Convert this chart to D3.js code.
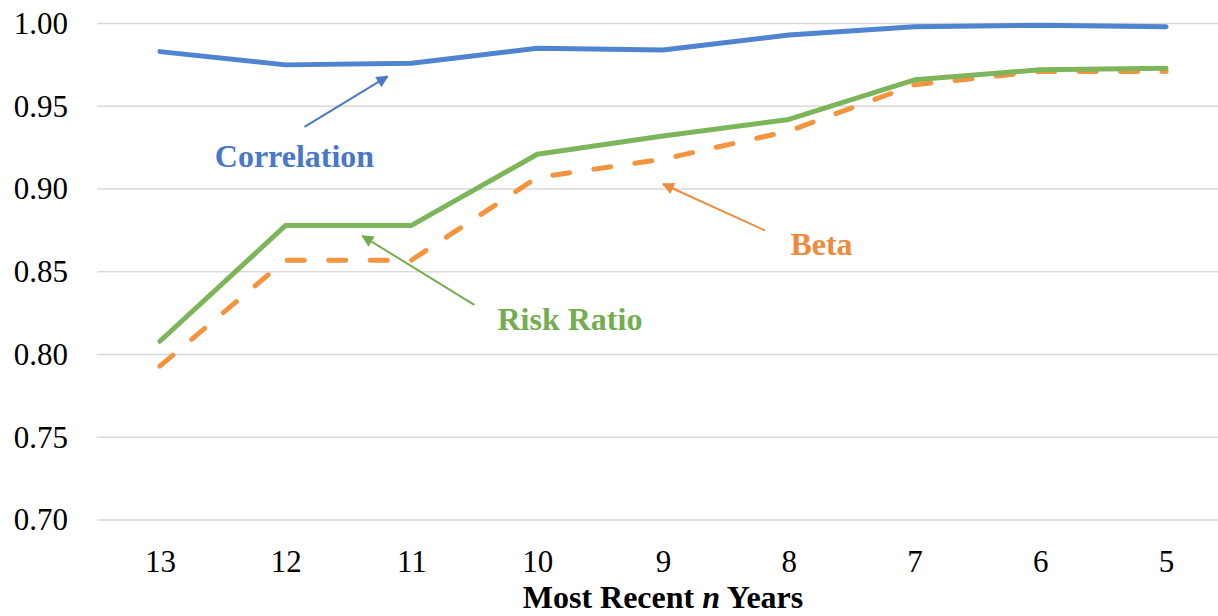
<!DOCTYPE html>
<html>
<head>
<meta charset="utf-8">
<script src="https://cdn.jsdelivr.net/npm/d3@7"></script>
<style>
  html, body { margin: 0; padding: 0; background: #fff; }
  svg { display: block; }
</style>
</head>
<body>
<svg id="chart" width="1218" height="616"></svg>
<script>
// Categories: most recent n years
const years = ["13", "12", "11", "10", "9", "8", "7", "6", "5"];

// Series values
const correlation = [0.983, 0.975, 0.976, 0.985, 0.984, 0.993, 0.998, 0.999, 0.998];
const riskRatio   = [0.808, 0.878, 0.878, 0.921, 0.932, 0.942, 0.966, 0.972, 0.973];
const beta        = [0.793, 0.857, 0.857, 0.907, 0.918, 0.935, 0.963, 0.971, 0.971];

// Y axis ticks
const yTicks = [0.70, 0.75, 0.80, 0.85, 0.90, 0.95, 1.00];

// Callout labels: text anchor and arrow (in category-index / value units)
const callouts = [
  { name: "Correlation", color: "#4a78c8", tx: 1.07, ty: 0.913, ax0: 1.15, ay0: 0.9375, ax1: 1.81, ay1: 0.968 },
  { name: "Risk Ratio",  color: "#74ad4f", tx: 3.26, ty: 0.815, ax0: 2.50, ay0: 0.830,  ax1: 1.61, ay1: 0.8716 },
  { name: "Beta",        color: "#ef8a3a", tx: 5.26, ty: 0.860, ax0: 4.81, ay0: 0.875,  ax1: 4.00, ay1: 0.903 }
];

const serif = '"Liberation Serif", "Times New Roman", serif';
const svg = d3.select("#chart").style("font-family", serif);
const plotLeft = 97, plotRight = 1229, plotTop = 23.5, plotBottom = 520;

const x = d3.scalePoint().domain(years).range([plotLeft, plotRight]).padding(0.5);
const xi = d3.scaleLinear().domain([0, years.length - 1]).range([x(years[0]), x(years[years.length - 1])]);
const y = d3.scaleLinear().domain([0.70, 1.00]).range([plotBottom, plotTop]);

// Gridlines
svg.append("g")
  .selectAll("line")
  .data(yTicks)
  .join("line")
  .attr("x1", plotLeft).attr("x2", plotRight)
  .attr("y1", d => y(d)).attr("y2", d => y(d))
  .attr("stroke", "#d9d9d9")
  .attr("stroke-width", 1.5);

// Y axis labels
const yAxis = svg.append("g")
  .attr("transform", `translate(${plotLeft},0)`)
  .call(d3.axisLeft(y).tickValues(yTicks).tickFormat(d3.format(".2f")).tickSize(0).tickPadding(29));
yAxis.select(".domain").remove();
yAxis.attr("font-family", null).style("font-family", serif);
yAxis.selectAll("text")
  .style("font-family", serif)
  .style("font-size", "31px")
  .attr("fill", "#000");

// X axis labels
const xAxis = svg.append("g")
  .attr("transform", `translate(0,${plotBottom})`)
  .call(d3.axisBottom(x).tickSize(0).tickPadding(30));
xAxis.select(".domain").remove();
xAxis.attr("font-family", null).style("font-family", serif);
xAxis.selectAll("text")
  .style("font-family", serif)
  .style("font-size", "31px")
  .attr("fill", "#000");

// X axis title
const title = svg.append("text")
  .attr("x", (plotLeft + plotRight) / 2)
  .attr("y", 608)
  .attr("text-anchor", "middle")
  .style("font-family", serif)
  .style("font-size", "32px")
  .attr("font-weight", "bold")
  .attr("fill", "#000");
title.append("tspan").text("Most Recent ");
title.append("tspan").attr("font-style", "italic").text("n");
title.append("tspan").text(" Years");

// Lines
const line = d3.line()
  .x((d, i) => x(years[i]))
  .y(d => y(d));

svg.append("path")
  .datum(beta)
  .attr("d", line)
  .attr("fill", "none")
  .attr("stroke", "#f4943f")
  .attr("stroke-width", 5)
  .attr("stroke-linecap", "round")
  .attr("stroke-linejoin", "round")
  .attr("stroke-dasharray", "17 24.5");

svg.append("path")
  .datum(riskRatio)
  .attr("d", line)
  .attr("fill", "none")
  .attr("stroke", "#7db65a")
  .attr("stroke-width", 5)
  .attr("stroke-linecap", "round")
  .attr("stroke-linejoin", "round");

svg.append("path")
  .datum(correlation)
  .attr("d", line)
  .attr("fill", "none")
  .attr("stroke", "#5083d0")
  .attr("stroke-width", 5)
  .attr("stroke-linecap", "round")
  .attr("stroke-linejoin", "round");

// Callouts with arrows
const defs = svg.append("defs");
callouts.forEach((c, k) => {
  defs.append("marker")
    .attr("id", "arrow" + k)
    .attr("viewBox", "0 0 10 10")
    .attr("refX", 9).attr("refY", 5)
    .attr("markerWidth", 6.5).attr("markerHeight", 6)
    .attr("markerUnits", "strokeWidth")
    .attr("orient", "auto")
    .append("path")
    .attr("d", "M0,0 L10,5 L0,10 Z")
    .attr("fill", c.color);

  svg.append("line")
    .attr("x1", xi(c.ax0)).attr("y1", y(c.ay0))
    .attr("x2", xi(c.ax1)).attr("y2", y(c.ay1))
    .attr("stroke", c.color)
    .attr("stroke-width", 2)
    .attr("marker-end", `url(#arrow${k})`);

  svg.append("text")
    .attr("x", xi(c.tx))
    .attr("y", y(c.ty))
    .attr("text-anchor", "middle")
    .style("font-family", serif)
    .style("font-size", "32px")
    .attr("font-weight", "bold")
    .attr("fill", c.color)
    .text(c.name);
});
</script>
</body>
</html>
